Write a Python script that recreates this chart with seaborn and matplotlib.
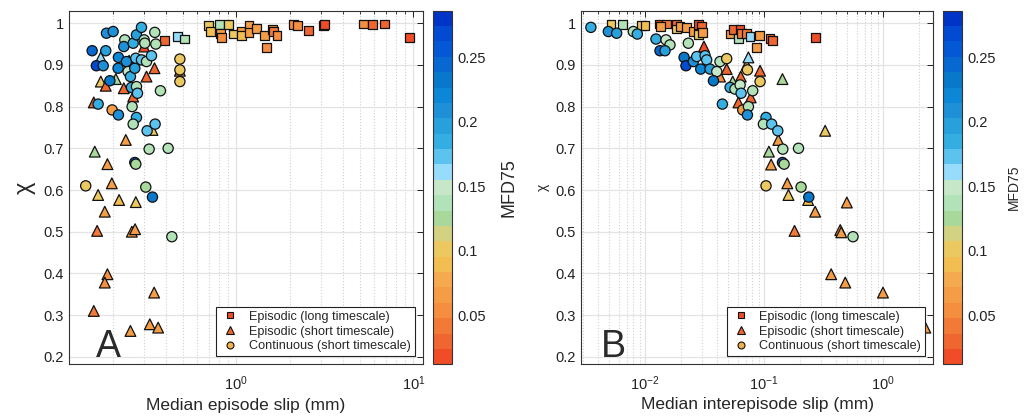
import numpy as np
import pandas as pd
import seaborn as sns
import matplotlib.pyplot as plt
from matplotlib.colors import ListedColormap, Normalize
from matplotlib.lines import Line2D
from matplotlib.cm import ScalarMappable

# ---- panel A: median episode slip (mm), chi, MFD75 ----
a_long_x = [0.70, 0.714, 0.807, 0.817, 0.824, 0.903, 0.96, 1.07, 1.07, 1.18, 1.18, 1.30, 1.44, 1.48, 1.60,
            1.62, 1.70, 2.10, 2.22, 2.55, 3.10, 3.16, 5.25, 5.88, 6.90, 9.56, 0.393, 0.465, 0.512]
a_long_y = [0.994, 0.980, 0.996, 0.976, 0.966, 0.996, 0.974, 0.980, 0.970, 0.994, 0.978, 0.988, 0.970, 0.942, 0.984,
            0.980, 0.970, 0.996, 0.994, 0.982, 0.994, 0.996, 0.998, 0.996, 0.998, 0.966, 0.958, 0.968, 0.962]
a_long_c = [0.10, 0.09, 0.14, 0.06, 0.05, 0.10, 0.10, 0.07, 0.09, 0.06, 0.07, 0.06, 0.06, 0.05, 0.05,
            0.04, 0.05, 0.05, 0.05, 0.03, 0.04, 0.02, 0.05, 0.03, 0.03, 0.02, 0.03, 0.16, 0.14]

a_short_x = [0.1716, 0.1716, 0.183, 0.1566, 0.2086, 0.2314, 0.248, 0.2614, 0.311, 0.345, 0.3015, 0.336, 0.2375,
             0.1586, 0.187, 0.198, 0.1657, 0.2177, 0.2705, 0.1807, 0.1636, 0.257, 0.268, 0.187, 0.1807, 0.3434,
             0.1566, 0.2523, 0.3246, 0.3618, 0.48]
a_short_y = [0.918, 0.860, 0.850, 0.810, 0.866, 0.844, 0.910, 0.824, 0.872, 0.892, 0.944, 0.744, 0.720,
             0.692, 0.662, 0.616, 0.588, 0.576, 0.571, 0.548, 0.502, 0.500, 0.506, 0.398, 0.378, 0.354,
             0.310, 0.262, 0.278, 0.270, 0.886]
a_short_c = [0.16, 0.10, 0.03, 0.03, 0.13, 0.03, 0.03, 0.03, 0.03, 0.03, 0.02, 0.10, 0.06,
             0.12, 0.07, 0.07, 0.10, 0.09, 0.10, 0.07, 0.04, 0.07, 0.07, 0.05, 0.05, 0.06,
             0.04, 0.06, 0.06, 0.06, 0.06]

a_cont_x = [0.1533, 0.162, 0.177, 0.183, 0.1847, 0.2014, 0.193, 0.1657, 0.2158, 0.2148, 0.2344, 0.2314, 0.2395,
            0.2447, 0.2523, 0.2614, 0.267, 0.2705, 0.2729, 0.2912, 0.2912, 0.3015, 0.304, 0.311, 0.3317, 0.3463,
            0.3509, 0.3727, 0.2557, 0.2729, 0.2765, 0.2578, 0.1988, 0.2158, 0.2729, 0.2614, 0.3134, 0.3478,
            0.3218, 0.412, 0.267, 0.2705, 0.141, 0.308, 0.336, 0.4325, 0.48, 0.48, 0.48]
a_cont_y = [0.934, 0.898, 0.898, 0.934, 0.976, 0.980, 0.862, 0.806, 0.918, 0.892, 0.960, 0.944, 0.908,
            0.884, 0.872, 0.952, 0.892, 0.916, 0.972, 0.990, 0.912, 0.960, 0.952, 0.908, 0.922, 0.978,
            0.950, 0.838, 0.846, 0.848, 0.832, 0.800, 0.792, 0.780, 0.774, 0.758, 0.742, 0.758,
            0.698, 0.700, 0.666, 0.662, 0.610, 0.607, 0.583, 0.488, 0.914, 0.888, 0.860]
a_cont_c = [0.24, 0.27, 0.21, 0.20, 0.21, 0.21, 0.23, 0.19, 0.22, 0.22, 0.14, 0.21, 0.21,
            0.15, 0.19, 0.18, 0.20, 0.17, 0.20, 0.18, 0.17, 0.14, 0.14, 0.14, 0.17, 0.14,
            0.14, 0.14, 0.19, 0.14, 0.17, 0.14, 0.06, 0.21, 0.19, 0.14, 0.17, 0.17,
            0.14, 0.14, 0.26, 0.13, 0.10, 0.12, 0.23, 0.14, 0.10, 0.10, 0.10]

# ---- panel B: median interepisode slip (mm), chi, MFD75 ----
b_long_x = [0.00518, 0.00645, 0.00938, 0.0100, 0.0131, 0.0152, 0.0134, 0.0185, 0.0185, 0.0197, 0.0224, 0.0255,
            0.0281, 0.0300, 0.0281, 0.0306, 0.0519, 0.0553, 0.061, 0.063, 0.065, 0.0716, 0.0764, 0.0915,
            0.1125, 0.1186, 0.0869, 0.272]
b_long_y = [0.996, 0.996, 0.994, 0.994, 0.998, 0.998, 0.992, 0.996, 0.986, 0.992, 0.990, 0.980,
            0.996, 0.992, 0.972, 0.978, 0.974, 0.984, 0.964, 0.984, 0.976, 0.976, 0.968, 0.970,
            0.964, 0.958, 0.942, 0.966]
b_long_c = [0.10, 0.14, 0.10, 0.09, 0.02, 0.04, 0.06, 0.03, 0.10, 0.06, 0.06, 0.07,
            0.02, 0.03, 0.10, 0.06, 0.07, 0.03, 0.14, 0.02, 0.04, 0.04, 0.16, 0.07,
            0.03, 0.03, 0.06, 0.02]

b_short_x = [0.0313, 0.0486, 0.0427, 0.0716, 0.074, 0.0638, 0.0927, 0.0546, 0.0774, 0.061, 0.143, 0.132,
             0.110, 0.1148, 0.3266, 0.157, 0.1606, 0.235, 0.269, 0.497, 0.1806, 0.4375, 0.446, 0.367,
             0.482, 1.0, 2.27]
b_short_y = [0.944, 0.890, 0.872, 0.900, 0.918, 0.872, 0.886, 0.860, 0.822, 0.810, 0.866, 0.720,
             0.692, 0.661, 0.742, 0.616, 0.588, 0.576, 0.548, 0.570, 0.502, 0.504, 0.4985, 0.398,
             0.378, 0.354, 0.270]
b_short_c = [0.02, 0.03, 0.05, 0.08, 0.16, 0.03, 0.03, 0.13, 0.03, 0.03, 0.13, 0.06,
             0.12, 0.07, 0.10, 0.07, 0.10, 0.09, 0.06, 0.07, 0.04, 0.06, 0.07, 0.06,
             0.06, 0.06, 0.06]

b_cont_x = [0.00351, 0.00492, 0.00578, 0.00798, 0.00862, 0.01237, 0.01502, 0.01622, 0.01337, 0.01473, 0.02314,
            0.0213, 0.0221, 0.0255, 0.0272, 0.032, 0.033, 0.0294, 0.0352, 0.0401, 0.0376, 0.0427, 0.0486,
            0.0519, 0.0571, 0.063, 0.0642, 0.0804, 0.0726, 0.0927, 0.0447, 0.0663, 0.074, 0.0726, 0.104,
            0.0989, 0.116, 0.1306, 0.144, 0.195, 0.143, 0.1476, 0.104, 0.205, 0.238, 0.56]
b_cont_y = [0.990, 0.980, 0.976, 0.980, 0.974, 0.962, 0.960, 0.948, 0.934, 0.934, 0.952,
            0.918, 0.898, 0.908, 0.920, 0.922, 0.912, 0.890, 0.890, 0.884, 0.862, 0.908, 0.915,
            0.846, 0.842, 0.852, 0.832, 0.838, 0.888, 0.860, 0.806, 0.792, 0.800, 0.780, 0.774,
            0.758, 0.758, 0.742, 0.698, 0.700, 0.666, 0.662, 0.610, 0.607, 0.583, 0.488]
b_cont_c = [0.18, 0.21, 0.20, 0.14, 0.19, 0.19, 0.15, 0.14, 0.24, 0.20, 0.14,
            0.23, 0.27, 0.21, 0.17, 0.17, 0.17, 0.22, 0.20, 0.15, 0.23, 0.14, 0.10,
            0.18, 0.14, 0.15, 0.17, 0.14, 0.10, 0.10, 0.19, 0.06, 0.14, 0.21, 0.19,
            0.14, 0.17, 0.17, 0.14, 0.14, 0.26, 0.13, 0.10, 0.12, 0.23, 0.14]

# colormap, bottom -> top
cbar_colors = ['#f04c28', '#f06630', '#f27a36', '#f58e3e', '#f59c46', '#f5aa50', '#f2be52', '#ecc860',
               '#d2d282', '#a8d89a', '#b2e2b8', '#c6e8c8', '#98dcfc', '#5cc2ee', '#34aee2', '#28a0dc',
               '#1e90d8', '#0c86d6', '#0878cc', '#0668d0', '#0458d6', '#024ad2', '#0034c6']
cmap = ListedColormap(cbar_colors)
norm = Normalize(vmin=0.012, vmax=0.286)

sns.set_theme(style='white')
plt.rcParams['font.family'] = ['Liberation Sans', 'DejaVu Sans']
plt.rcParams['mathtext.fontset'] = 'custom'
plt.rcParams['mathtext.rm'] = 'Liberation Sans'

fig = plt.figure(figsize=(10.32, 4.19), dpi=100)
axA = fig.add_axes([0.0669, 0.1305, 0.343, 0.844])
caxA = fig.add_axes([0.4196, 0.1305, 0.0184, 0.844])
axB = fig.add_axes([0.563, 0.1305, 0.3414, 0.844])
caxB = fig.add_axes([0.9138, 0.1305, 0.0184, 0.844])


def draw_panel(ax, long_, short_, cont_):
    for (x, y, c), mk, s in [(long_, 's', 40), (short_, '^', 60), (cont_, 'o', 54)]:
        df = pd.DataFrame({'x': x, 'y': y, 'c': c})
        sns.scatterplot(data=df, x='x', y='y', hue='c', palette=cmap, hue_norm=norm, marker=mk, s=s,
                        edgecolor='#111111', linewidth=0.9, legend=False, ax=ax, zorder=3)
    ax.set_xscale('log')
    ax.set_ylim(0.182, 1.03)
    ax.set_yticks(np.arange(0.2, 1.01, 0.1))
    ax.set_yticklabels(['0.2', '0.3', '0.4', '0.5', '0.6', '0.7', '0.8', '0.9', '1'])
    ax.grid(True, which='major', color='#e3e3e3', lw=0.9, zorder=0)
    ax.grid(True, which='minor', axis='x', color='#d0d0d0', ls=':', lw=0.8, zorder=0)
    ax.set_axisbelow(True)
    ax.tick_params(which='both', direction='in', top=True, right=True, labelsize=10.5, colors='#222222')
    ax.tick_params(which='major', length=4, width=0.7)
    ax.tick_params(which='minor', length=2, width=0.6)
    ax.tick_params(axis='x', pad=7)
    for sp in ax.spines.values():
        sp.set_color('#333333')
        sp.set_linewidth(0.8)
    handles = [
        Line2D([], [], marker='s', ls='none', mfc='#f04c28', mec='#111111', ms=3.8, mew=0.8,
               label='Episodic (long timescale)'),
        Line2D([], [], marker='^', ls='none', mfc='#f06630', mec='#111111', ms=6, mew=0.8,
               label='Episodic (short timescale)'),
        Line2D([], [], marker='o', ls='none', mfc='#f2b04a', mec='#111111', ms=5, mew=0.8,
               label='Continuous (short timescale)'),
    ]
    leg = ax.legend(handles=handles, loc='lower right', fontsize=9.1, frameon=True, fancybox=False,
                    framealpha=1, edgecolor='#222222', borderaxespad=0.65, handletextpad=0.7,
                    handlelength=1.6, borderpad=0.3, labelspacing=0.22)
    leg.get_frame().set_linewidth(0.8)
    leg.set_zorder(5)


def draw_cbar(cax, label_size):
    cb = fig.colorbar(ScalarMappable(norm=norm, cmap=cmap), cax=cax)
    cb.set_ticks([0.05, 0.1, 0.15, 0.2, 0.25])
    cb.set_ticklabels(['0.05', '0.1', '0.15', '0.2', '0.25'])
    cax.tick_params(direction='in', length=3, width=0.7, labelsize=10.5, colors='#222222', pad=4)
    cb.outline.set_edgecolor('#333333')
    cb.outline.set_linewidth(0.8)
    cb.set_label('MFD75', fontsize=label_size, labelpad=10 if label_size > 11 else 8)


draw_panel(axA, (a_long_x, a_long_y, a_long_c), (a_short_x, a_short_y, a_short_c),
           (a_cont_x, a_cont_y, a_cont_c))
axA.set_xlim(0.1135, 11.35)
axA.set_xlabel('Median episode slip (mm)', fontsize=12.5, labelpad=4)
axA.set_ylabel('χ', fontsize=17, labelpad=6)
axA.text(0.075, 0.02, 'A', transform=axA.transAxes, fontsize=27, color='#2a2a2a', zorder=6)
draw_cbar(caxA, 13)

draw_panel(axB, (b_long_x, b_long_y, b_long_c), (b_short_x, b_short_y, b_short_c),
           (b_cont_x, b_cont_y, b_cont_c))
axB.set_xlim(0.0029, 2.65)
axB.set_xlabel('Median interepisode slip (mm)', fontsize=12.5, labelpad=3)
axB.set_ylabel('χ', fontsize=10, labelpad=4)
axB.text(0.055, 0.02, 'B', transform=axB.transAxes, fontsize=27, color='#2a2a2a', zorder=6)
draw_cbar(caxB, 10)

fig.savefig('out.png', dpi=100)
